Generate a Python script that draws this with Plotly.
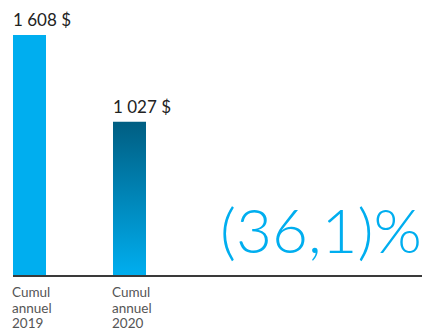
import plotly.graph_objects as go

categories = ["Cumul annuel 2019", "Cumul annuel 2020"]
values = [1608, 1027]
value_labels = ["1 608 $", "1 027 $"]
change_label = "(36,1)%"

LIGHT = "#00AEEF"
DARK = "#005E82"
FONT = "Lato"

x_pos = [0, 1]
w = 0.33

fig = go.Figure()
fig.add_trace(go.Bar(x=[x_pos[0]], y=[values[0]], width=w, marker=dict(color=LIGHT, line=dict(width=0)),
                     hoverinfo="skip", showlegend=False))
# second bar with vertical gradient
x0, x1 = x_pos[1] - w / 2, x_pos[1] + w / 2
fig.add_trace(go.Scatter(x=[x0, x1, x1, x0, x0], y=[0, 0, values[1], values[1], 0],
                         mode="lines", line=dict(width=0), fill="toself",
                         fillgradient=dict(type="vertical", colorscale=[[0, LIGHT], [1, DARK]]),
                         hoverinfo="skip", showlegend=False))

annotations = []
for xp, v, lab in zip(x_pos, values, value_labels):
    annotations.append(dict(x=xp - w / 2, y=v, xref="x", yref="y", text=lab, showarrow=False,
                            xanchor="left", yanchor="bottom", yshift=3, xshift=-2,
                            font=dict(family=FONT, size=17, color="#222222")))
for xp, cat in zip(x_pos, categories):
    for i, line in enumerate(cat.split(" ")):
        annotations.append(dict(x=xp - w / 2, y=0, xref="x", yref="y", text=line, showarrow=False,
                                xanchor="left", yanchor="middle", yshift=-17 - 15.5 * i, xshift=-3,
                                font=dict(family=FONT, size=13.5, color="#555555")))
annotations.append(dict(x=1, y=0, xref="paper", yref="paper", text=change_label, showarrow=False,
                        xanchor="right", yanchor="bottom", yshift=7, xshift=2,
                        font=dict(family=FONT, size=62, color=LIGHT, weight=300)))

ymax = values[0] * 275 / 240
fig.update_layout(
    width=422, height=331,
    margin=dict(l=13, r=0, t=0, b=56),
    paper_bgcolor="white", plot_bgcolor="white",
    xaxis=dict(range=[-w / 2, -w / 2 + 409 / 100], showgrid=False, zeroline=False,
               showticklabels=False, ticks="", showline=True, linecolor="#3a3a3a", linewidth=2),
    yaxis=dict(range=[0, ymax], showgrid=False, zeroline=False, showticklabels=False, ticks=""),
    annotations=annotations,
)
fig.write_html("out.html", config={"displayModeBar": False},
               post_script="document.body.style.margin='0';")
